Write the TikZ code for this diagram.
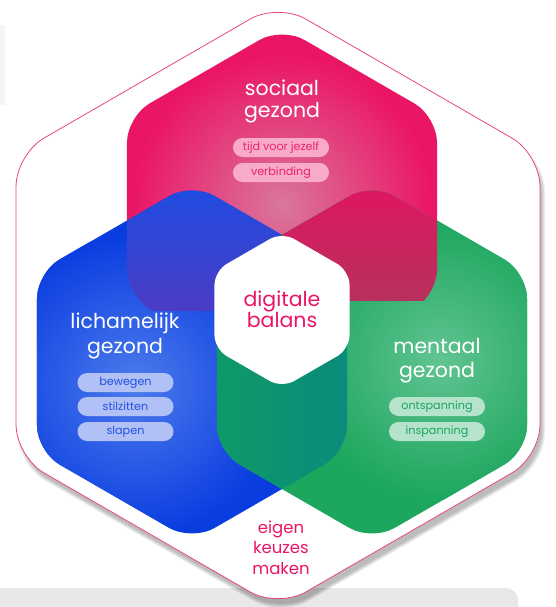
\documentclass[tikz,border=0pt]{standalone}
\usepackage{fontspec}
\setmainfont{Poppins}
\usepackage{tikz}
\definecolor{roze}{HTML}{EB1566}
\definecolor{rozelicht}{HTML}{D9779C}
\definecolor{blauw}{HTML}{0A3DE0}
\definecolor{blauwlicht}{HTML}{4D7BEC}
\definecolor{groen}{HTML}{1CA65E}
\definecolor{groenlicht}{HTML}{62C492}
\definecolor{paars}{HTML}{4A3CC4}
\definecolor{karmijn}{HTML}{B8305C}
\definecolor{tealL}{HTML}{0F9A68}
\definecolor{tealR}{HTML}{0B8A7C}
\definecolor{rand}{HTML}{E8477E}
% rounded hexagon, pointy top: centre x, centre y, radius
\newcommand{\hexa}[3]{({#1+0.866*(#3)},#2) -- ({#1+0.866*(#3)},{#2+0.5*(#3)}) -- (#1,{#2+(#3)}) -- ({#1-0.866*(#3)},{#2+0.5*(#3)}) -- ({#1-0.866*(#3)},{#2-0.5*(#3)}) -- (#1,{#2-(#3)}) -- ({#1+0.866*(#3)},{#2-0.5*(#3)}) -- cycle}

\begin{document}
\begin{tikzpicture}[x=1pt,y=-1pt,
  titel/.style={text=white,align=center,inner sep=0pt,font=\fontsize{20.5}{24.5}\selectfont},
  pill/.style={rounded corners=9.5pt,minimum width=96pt,minimum height=19pt,inner sep=0pt,font=\fontsize{11.2}{12}\selectfont},
  pillroze/.style={pill,fill=roze!36!white,text=roze!95!white},
  pillblauw/.style={pill,fill=blauw!32!white,text=blauw!90!white},
  pillgroen/.style={pill,fill=groen!32!white,text=groen}]
  \useasboundingbox (0,0) rectangle (555,607);

  % background bits
  \fill[black!9,rounded corners=12pt] (-20,588) rectangle (518,650);
  \fill[black!4] (0,25) rectangle (5,105);

  % shadow + outer hexagon
  \foreach \k in {0,2,...,8}
    \fill[black,opacity=0.06,rounded corners=32pt] \hexa{281}{312}{301+\k/2};
  \filldraw[fill=white,draw=rand,line width=0.8pt,rounded corners=32pt] \hexa{278}{305.5}{302.5};

  % the three hexagons
  \fill[roze,rounded corners=26pt] \hexa{282}{206}{179};
  \begin{scope}
    \clip[rounded corners=26pt] \hexa{282}{206}{179};
    \shade[inner color=rozelicht,outer color=roze] (282,205) circle (150);
  \end{scope}
  \fill[blauw,rounded corners=26pt] \hexa{192}{362}{179};
  \begin{scope}
    \clip[rounded corners=26pt] \hexa{192}{362}{179};
    \shade[inner color=blauwlicht,outer color=blauw] (135,385) circle (150);
  \end{scope}
  \fill[groen,rounded corners=26pt] \hexa{372}{362}{179};
  \begin{scope}
    \clip[rounded corners=26pt] \hexa{372}{362}{179};
    \shade[inner color=groenlicht,outer color=groen] (440,360) circle (140);
  \end{scope}

  % overlaps
  \begin{scope}
    \clip[rounded corners=26pt] \hexa{282}{206}{179};
    \clip[rounded corners=26pt] \hexa{192}{362}{179};
    \shade[top color=blauw!92!white,bottom color=paars] (120,180) rectangle (290,310);
  \end{scope}
  \begin{scope}
    \clip[rounded corners=26pt] \hexa{282}{206}{179};
    \clip[rounded corners=26pt] \hexa{372}{362}{179};
    \shade[top color=roze!96!black,bottom color=karmijn] (280,180) rectangle (440,300);
  \end{scope}
  \begin{scope}
    \clip[rounded corners=26pt] \hexa{192}{362}{179};
    \clip[rounded corners=26pt] \hexa{372}{362}{179};
    \shade[left color=tealL,right color=tealR] (210,230) rectangle (355,500);
  \end{scope}

  % centre
  \fill[white,rounded corners=14pt] \hexa{282}{310}{78};
  \node[titel,text=roze,font=\fontsize{20.5}{21}\selectfont] (balans) at (282,309.5) {digitale\\balans};

  % sociaal
  \node[titel,font=\fontsize{20.5}{21.7}\selectfont] (sociaal) at (282,101.5) {sociaal\\gezond};
  \node[pillroze] (tijd) at (281,147.5) {tijd voor jezelf};
  \node[pillroze] (verbinding) at (281,172.5) {verbinding};

  % lichamelijk
  \node[titel] (lichamelijk) at (125,336) {lichamelijk\\gezond};
  \node[pillblauw] (bewegen) at (125.5,382.5) {bewegen};
  \node[pillblauw] (stilzitten) at (125.5,406.5) {stilzitten};
  \node[pillblauw] (slapen) at (125.5,431.5) {slapen};

  % mentaal
  \node[titel] (mentaal) at (437,360.5) {mentaal\\gezond};
  \node[pillgroen] (ontspanning) at (437,406.5) {ontspanning};
  \node[pillgroen] (inspanning) at (437,431.5) {inspanning};

  % bottom
  \node[text=roze,align=center,inner sep=0pt,font=\fontsize{16.5}{20.5}\selectfont] (keuzes) at (281,547.5) {eigen\\keuzes\\maken};
\end{tikzpicture}
\end{document}
